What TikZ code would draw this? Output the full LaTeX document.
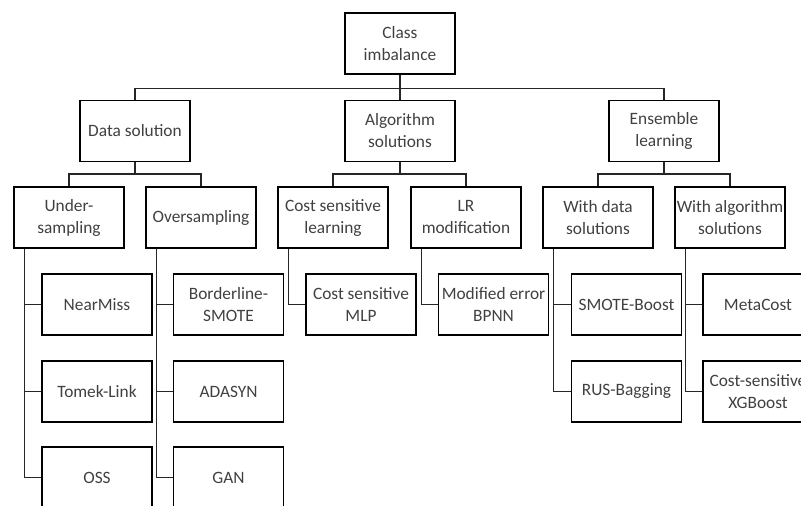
\documentclass[tikz,border=0pt]{standalone}
\usepackage{fontspec}
\setmainfont{Carlito}
\usetikzlibrary{positioning}
\tikzset{
  box/.style={draw,line width=1.1pt,minimum width=82.5pt,minimum height=45.75pt,
    inner sep=1pt,align=center,text=black!75,font=\fontsize{13}{16.5}\selectfont},
  link/.style={line width=1.1pt,black!85}
}

\begin{document}
\begin{tikzpicture}[x=0.75pt,y=-0.75pt]
\clip (0,0) rectangle (801,506);
% Root and first level
\node[box] (root) at (400,43.5) {Class\\imbalance};
\node[box] (data) at (135,131) {Data solution};
\node[box] (algo) at (400,131) {Algorithm\\solutions};
\node[box] (ens)  at (664,131) {Ensemble\\learning};
% Second level
\node[box] (under)    at (69,217.5)  {Under-\\sampling};
\node[box] (over)     at (201,217.5) {Oversampling};
\node[box] (costl)    at (333,217.5) {Cost sensitive\\learning};
\node[box] (lrmod)    at (466,217.5) {LR\\modification};
\node[box] (withdata) at (598,217.5) {With data\\solutions};
\node[box] (withalgo) at (730,217.5) {With algorithm\\solutions};
% Leaves
\node[box] (nearmiss) at (97,304.5)  {NearMiss};
\node[box] (tomek)    at (97,391.5)  {Tomek-Link};
\node[box] (oss)      at (97,477.5)  {OSS};
\node[box] (border)   at (228.5,304.5) {Borderline-\\SMOTE};
\node[box] (adasyn)   at (228.5,391.5) {ADASYN};
\node[box] (gan)      at (228.5,477.5) {GAN};
\node[box] (mlp)      at (361,304.5) {Cost sensitive\\MLP};
\node[box] (bpnn)     at (493.5,304.5) {Modified error\\BPNN};
\node[box] (smboost)  at (626.5,304.5) {SMOTE-Boost};
\node[box] (rusbag)   at (626.5,391.5) {RUS-Bagging};
\node[box] (metacost) at (758,304.5) {MetaCost};
\node[box] (xgb)      at (758,391.5) {Cost-sensitive\\XGBoost};
% Buses from root and first level
\draw[link] (root.south) -- ++(0,14) -| (data.north);
\draw[link] (root.south) -- ++(0,14) -| (ens.north);
\draw[link] (root.south) -- (algo.north);
\draw[link] (data.south) -- ++(0,12) -| (under.north);
\draw[link] (data.south) -- ++(0,12) -| (over.north);
\draw[link] (algo.south) -- ++(0,12) -| (costl.north);
\draw[link] (algo.south) -- ++(0,12) -| (lrmod.north);
\draw[link] (ens.south) -- ++(0,12) -| (withdata.north);
\draw[link] (ens.south) -- ++(0,12) -| (withalgo.north);
% Trunks down to the leaves
\foreach \p/\c in {under/nearmiss,under/tomek,under/oss,
                   over/border,over/adasyn,over/gan,
                   costl/mlp,lrmod/bpnn,
                   withdata/smboost,withdata/rusbag,
                   withalgo/metacost,withalgo/xgb}
  \draw[link] ([xshift=8.25pt]\p.south west) |- (\c.west);
\end{tikzpicture}
\end{document}
